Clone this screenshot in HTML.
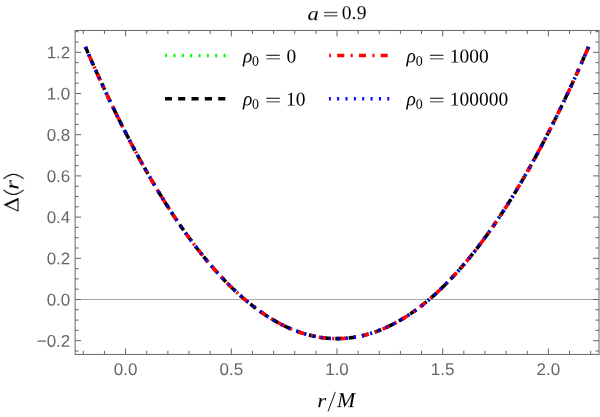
<!DOCTYPE html>
<html lang="en">
<head>
<meta charset="utf-8">
<title>Delta(r) plot, a = 0.9</title>
<style>
html, body { margin: 0; padding: 0; background: #ffffff; }
body { width: 600px; height: 417px; overflow: hidden; font-family: "Liberation Sans", sans-serif; }
svg { display: block; }
</style>
</head>
<body>
<svg width="600" height="417" viewBox="0 0 600 417">
<rect x="0" y="0" width="600" height="417" fill="#ffffff"/>
<g opacity="0.999">
<line x1="75.10" y1="299.50" x2="599.00" y2="299.50" stroke="#a8a8a8" stroke-width="1"/>
<polyline points="85.43,46.92 86.11,48.50 86.80,50.07 87.48,51.64 88.16,53.20 88.84,54.76 89.52,56.32 90.20,57.87 90.88,59.42 91.56,60.96 92.24,62.50 92.92,64.03 93.60,65.56 94.28,67.09 94.96,68.61 95.65,70.13 96.33,71.64 97.01,73.15 97.69,74.65 98.37,76.15 99.05,77.65 99.73,79.14 100.41,80.62 101.09,82.11 101.77,83.59 102.45,85.06 103.13,86.53 103.82,88.00 104.50,89.46 105.18,90.91 105.86,92.37 106.54,93.82 107.22,95.26 107.90,96.70 108.58,98.14 109.26,99.57 109.94,100.99 110.62,102.42 111.30,103.84 111.98,105.25 112.67,106.66 113.35,108.07 114.03,109.47 114.71,110.86 115.39,112.26 116.07,113.65 116.75,115.03 117.43,116.41 118.11,117.79 118.79,119.16 119.47,120.53 120.15,121.89 120.83,123.25 121.52,124.60 122.20,125.95 122.88,127.30 123.56,128.64 124.24,129.98 124.92,131.31 125.60,132.64" fill="none" stroke="#00ff00" stroke-width="3.55" stroke-dasharray="2.00 6.354" stroke-dashoffset="0.20"/>
<polyline points="125.60,132.64 126.76,134.90 127.92,137.14 129.08,139.37 130.24,141.59 131.40,143.79 132.56,145.98 133.72,148.17 134.88,150.33 136.04,152.49 137.20,154.63 138.36,156.76 139.52,158.88 140.68,160.99 141.84,163.08 143.00,165.16 144.17,167.23 145.33,169.29 146.49,171.33 147.65,173.37 148.81,175.38 149.97,177.39 151.13,179.39 152.29,181.37 153.45,183.34 154.61,185.30 155.77,187.24 156.93,189.17 158.09,191.09 159.25,193.00 160.41,194.90 161.57,196.78 162.73,198.65 163.89,200.51 165.05,202.35 166.21,204.19 167.37,206.01 168.53,207.81 169.69,209.61 170.85,211.39 172.01,213.16 173.17,214.92 174.33,216.67 175.49,218.40 176.65,220.12 177.81,221.83 178.97,223.53 180.13,225.21 181.30,226.89 182.46,228.55 183.62,230.19 184.78,231.83 185.94,233.45 187.10,235.06 188.26,236.66 189.42,238.24 190.58,239.81 191.74,241.37 192.90,242.92 194.06,244.46 195.22,245.98 196.38,247.49 197.54,248.99 198.70,250.47 199.86,251.95 201.02,253.41 202.18,254.86 203.34,256.29 204.50,257.72 205.66,259.13 206.82,260.53 207.98,261.91 209.14,263.29 210.30,264.65 211.46,266.00 212.62,267.33 213.78,268.66 214.94,269.97 216.10,271.27 217.26,272.56 218.43,273.83 219.59,275.09 220.75,276.34 221.91,277.58 223.07,278.80 224.23,280.02 225.39,281.22 226.55,282.40 227.71,283.58 228.87,284.74 230.03,285.89 231.19,287.03 232.35,288.16 233.51,289.27 234.67,290.37 235.83,291.46 236.99,292.54 238.15,293.60 239.31,294.65 240.47,295.69 241.63,296.72 242.79,297.73 243.95,298.73 245.11,299.72 246.27,300.70 247.43,301.66 248.59,302.61 249.75,303.55 250.91,304.48 252.07,305.39 253.23,306.30 254.40,307.19 255.56,308.06 256.72,308.93 257.88,309.78 259.04,310.62 260.20,311.45 261.36,312.26 262.52,313.07 263.68,313.86 264.84,314.64 266.00,315.40 267.16,316.16 268.32,316.90 269.48,317.62 270.64,318.34 271.80,319.04 272.96,319.74 274.12,320.41 275.28,321.08 276.44,321.74 277.60,322.38 278.76,323.01 279.92,323.62 281.08,324.23 282.24,324.82 283.40,325.40 284.56,325.97 285.72,326.52 286.88,327.06 288.04,327.59 289.20,328.11 290.36,328.62 291.53,329.11 292.69,329.59 293.85,330.06 295.01,330.51 296.17,330.95 297.33,331.38 298.49,331.80 299.65,332.21 300.81,332.60 301.97,332.98 303.13,333.35 304.29,333.71 305.45,334.05 306.61,334.38 307.77,334.70 308.93,335.01 310.09,335.30 311.25,335.58 312.41,335.85 313.57,336.11 314.73,336.35 315.89,336.59 317.05,336.81 318.21,337.01 319.37,337.21 320.53,337.39 321.69,337.56 322.85,337.72 324.01,337.86 325.17,338.00 326.33,338.12 327.49,338.22 328.66,338.32 329.82,338.40 330.98,338.47 332.14,338.53 333.30,338.58 334.46,338.61 335.62,338.63 336.78,338.64 337.94,338.64 339.10,338.62 340.26,338.59 341.42,338.55 342.58,338.50 343.74,338.43 344.90,338.35 346.06,338.26 347.22,338.16 348.38,338.04 349.54,337.92 350.70,337.77 351.86,337.62 353.02,337.46 354.18,337.28 355.34,337.09 356.50,336.89 357.66,336.67 358.82,336.44 359.98,336.20 361.14,335.95 362.30,335.69 363.46,335.41 364.63,335.12 365.79,334.82 366.95,334.51 368.11,334.18 369.27,333.84 370.43,333.49 371.59,333.13 372.75,332.75 373.91,332.36 375.07,331.96 376.23,331.55 377.39,331.12 378.55,330.68 379.71,330.23 380.87,329.77 382.03,329.29 383.19,328.81 384.35,328.31 385.51,327.79 386.67,327.27 387.83,326.73 388.99,326.18 390.15,325.62 391.31,325.04 392.47,324.46 393.63,323.86 394.79,323.24 395.95,322.62 397.11,321.98 398.27,321.33 399.43,320.67 400.59,320.00 401.76,319.31 402.92,318.61 404.08,317.90 405.24,317.18 406.40,316.44 407.56,315.69 408.72,314.93 409.88,314.16 411.04,313.37 412.20,312.57 413.36,311.76 414.52,310.94 415.68,310.11 416.84,309.26 418.00,308.40 419.16,307.52 420.32,306.64 421.48,305.74 422.64,304.83 423.80,303.91 424.96,302.97 426.12,302.03 427.28,301.07 428.44,300.10 429.60,299.11 430.76,298.12 431.92,297.11 433.08,296.08 434.24,295.05 435.40,294.00 436.56,292.95 437.72,291.87 438.89,290.79 440.05,289.69 441.21,288.59 442.37,287.46 443.53,286.33 444.69,285.19 445.85,284.03 447.01,282.86 448.17,281.67 449.33,280.48 450.49,279.27 451.65,278.05 452.81,276.82 453.97,275.57 455.13,274.32 456.29,273.05 457.45,271.76 458.61,270.47 459.77,269.16 460.93,267.84 462.09,266.51 463.25,265.17 464.41,263.81 465.57,262.44 466.73,261.06 467.89,259.66 469.05,258.26 470.21,256.84 471.37,255.41 472.53,253.96 473.69,252.51 474.86,251.04 476.02,249.56 477.18,248.07 478.34,246.56 479.50,245.04 480.66,243.51 481.82,241.97 482.98,240.41 484.14,238.85 485.30,237.27 486.46,235.67 487.62,234.07 488.78,232.45 489.94,230.82 491.10,229.18 492.26,227.52 493.42,225.86 494.58,224.18 495.74,222.49 496.90,220.78 498.06,219.07 499.22,217.34 500.38,215.59 501.54,213.84 502.70,212.07 503.86,210.30 505.02,208.50 506.18,206.70 507.34,204.88 508.50,203.06 509.66,201.22 510.82,199.36 511.99,197.50 513.15,195.62 514.31,193.73 515.47,191.83 516.63,189.91 517.79,187.98 518.95,186.04 520.11,184.09 521.27,182.13 522.43,180.15 523.59,178.16 524.75,176.16 525.91,174.14 527.07,172.11 528.23,170.08 529.39,168.02 530.55,165.96 531.71,163.88 532.87,161.79 534.03,159.69 535.19,157.58 536.35,155.45 537.51,153.31 538.67,151.16 539.83,149.00 540.99,146.82 542.15,144.63 543.31,142.43 544.47,140.22 545.63,137.99 546.79,135.76 547.95,133.51 549.12,131.24 550.28,128.97 551.44,126.68 552.60,124.38 553.76,122.07 554.92,119.74 556.08,117.41 557.24,115.06 558.40,112.69 559.56,110.32 560.72,107.93 561.88,105.53 563.04,103.12 564.20,100.70 565.36,98.26 566.52,95.81 567.68,93.35 568.84,90.88 570.00,88.39 571.16,85.89 572.32,83.38 573.48,80.86 574.64,78.32 575.80,75.77 576.96,73.21 578.12,70.64 579.28,68.05 580.44,65.46 581.60,62.85 582.76,60.22 583.92,57.59 585.09,54.94 586.25,52.28 587.41,49.61 588.57,46.92" fill="none" stroke="#00ff00" stroke-width="3.55" stroke-dasharray="2.00 6.354" stroke-dashoffset="0.20"/>
<polyline points="85.43,46.92 86.11,48.50 86.80,50.07 87.48,51.64 88.16,53.20 88.84,54.76 89.52,56.32 90.20,57.87 90.88,59.42 91.56,60.96 92.24,62.50 92.92,64.03 93.60,65.56 94.28,67.09 94.96,68.61 95.65,70.13 96.33,71.64 97.01,73.15 97.69,74.65 98.37,76.15 99.05,77.65 99.73,79.14 100.41,80.62 101.09,82.11 101.77,83.59 102.45,85.06 103.13,86.53 103.82,88.00 104.50,89.46 105.18,90.91 105.86,92.37 106.54,93.82 107.22,95.26 107.90,96.70 108.58,98.14 109.26,99.57 109.94,100.99 110.62,102.42 111.30,103.84 111.98,105.25 112.67,106.66 113.35,108.07 114.03,109.47 114.71,110.86 115.39,112.26 116.07,113.65 116.75,115.03 117.43,116.41 118.11,117.79 118.79,119.16 119.47,120.53 120.15,121.89 120.83,123.25 121.52,124.60 122.20,125.95 122.88,127.30 123.56,128.64 124.24,129.98 124.92,131.31 125.60,132.64" fill="none" stroke="#000000" stroke-width="3.55" stroke-dasharray="7.10 6.25" stroke-dashoffset="0.20"/>
<polyline points="125.60,132.64 126.76,134.90 127.92,137.14 129.08,139.37 130.24,141.59 131.40,143.79 132.56,145.98 133.72,148.17 134.88,150.33 136.04,152.49 137.20,154.63 138.36,156.76 139.52,158.88 140.68,160.99 141.84,163.08 143.00,165.16 144.17,167.23 145.33,169.29 146.49,171.33 147.65,173.37 148.81,175.38 149.97,177.39 151.13,179.39 152.29,181.37 153.45,183.34 154.61,185.30 155.77,187.24 156.93,189.17 158.09,191.09 159.25,193.00 160.41,194.90 161.57,196.78 162.73,198.65 163.89,200.51 165.05,202.35 166.21,204.19 167.37,206.01 168.53,207.81 169.69,209.61 170.85,211.39 172.01,213.16 173.17,214.92 174.33,216.67 175.49,218.40 176.65,220.12 177.81,221.83 178.97,223.53 180.13,225.21 181.30,226.89 182.46,228.55 183.62,230.19 184.78,231.83 185.94,233.45 187.10,235.06 188.26,236.66 189.42,238.24 190.58,239.81 191.74,241.37 192.90,242.92 194.06,244.46 195.22,245.98 196.38,247.49 197.54,248.99 198.70,250.47 199.86,251.95 201.02,253.41 202.18,254.86 203.34,256.29 204.50,257.72 205.66,259.13 206.82,260.53 207.98,261.91 209.14,263.29 210.30,264.65 211.46,266.00 212.62,267.33 213.78,268.66 214.94,269.97 216.10,271.27 217.26,272.56 218.43,273.83 219.59,275.09 220.75,276.34 221.91,277.58 223.07,278.80 224.23,280.02 225.39,281.22 226.55,282.40 227.71,283.58 228.87,284.74 230.03,285.89 231.19,287.03 232.35,288.16 233.51,289.27 234.67,290.37 235.83,291.46 236.99,292.54 238.15,293.60 239.31,294.65 240.47,295.69 241.63,296.72 242.79,297.73 243.95,298.73 245.11,299.72 246.27,300.70 247.43,301.66 248.59,302.61 249.75,303.55 250.91,304.48 252.07,305.39 253.23,306.30 254.40,307.19 255.56,308.06 256.72,308.93 257.88,309.78 259.04,310.62 260.20,311.45 261.36,312.26 262.52,313.07 263.68,313.86 264.84,314.64 266.00,315.40 267.16,316.16 268.32,316.90 269.48,317.62 270.64,318.34 271.80,319.04 272.96,319.74 274.12,320.41 275.28,321.08 276.44,321.74 277.60,322.38 278.76,323.01 279.92,323.62 281.08,324.23 282.24,324.82 283.40,325.40 284.56,325.97 285.72,326.52 286.88,327.06 288.04,327.59 289.20,328.11 290.36,328.62 291.53,329.11 292.69,329.59 293.85,330.06 295.01,330.51 296.17,330.95 297.33,331.38 298.49,331.80 299.65,332.21 300.81,332.60 301.97,332.98 303.13,333.35 304.29,333.71 305.45,334.05 306.61,334.38 307.77,334.70 308.93,335.01 310.09,335.30 311.25,335.58 312.41,335.85 313.57,336.11 314.73,336.35 315.89,336.59 317.05,336.81 318.21,337.01 319.37,337.21 320.53,337.39 321.69,337.56 322.85,337.72 324.01,337.86 325.17,338.00 326.33,338.12 327.49,338.22 328.66,338.32 329.82,338.40 330.98,338.47 332.14,338.53 333.30,338.58 334.46,338.61 335.62,338.63 336.78,338.64 337.94,338.64 339.10,338.62 340.26,338.59 341.42,338.55 342.58,338.50 343.74,338.43 344.90,338.35 346.06,338.26 347.22,338.16 348.38,338.04 349.54,337.92 350.70,337.77 351.86,337.62 353.02,337.46 354.18,337.28 355.34,337.09 356.50,336.89 357.66,336.67 358.82,336.44 359.98,336.20 361.14,335.95 362.30,335.69 363.46,335.41 364.63,335.12 365.79,334.82 366.95,334.51 368.11,334.18 369.27,333.84 370.43,333.49 371.59,333.13 372.75,332.75 373.91,332.36 375.07,331.96 376.23,331.55 377.39,331.12 378.55,330.68 379.71,330.23 380.87,329.77 382.03,329.29 383.19,328.81 384.35,328.31 385.51,327.79 386.67,327.27 387.83,326.73 388.99,326.18 390.15,325.62 391.31,325.04 392.47,324.46 393.63,323.86 394.79,323.24 395.95,322.62 397.11,321.98 398.27,321.33 399.43,320.67 400.59,320.00 401.76,319.31 402.92,318.61 404.08,317.90 405.24,317.18 406.40,316.44 407.56,315.69 408.72,314.93 409.88,314.16 411.04,313.37 412.20,312.57 413.36,311.76 414.52,310.94 415.68,310.11 416.84,309.26 418.00,308.40 419.16,307.52 420.32,306.64 421.48,305.74 422.64,304.83 423.80,303.91 424.96,302.97 426.12,302.03 427.28,301.07 428.44,300.10 429.60,299.11 430.76,298.12 431.92,297.11 433.08,296.08 434.24,295.05 435.40,294.00 436.56,292.95 437.72,291.87 438.89,290.79 440.05,289.69 441.21,288.59 442.37,287.46 443.53,286.33 444.69,285.19 445.85,284.03 447.01,282.86 448.17,281.67 449.33,280.48 450.49,279.27 451.65,278.05 452.81,276.82 453.97,275.57 455.13,274.32 456.29,273.05 457.45,271.76 458.61,270.47 459.77,269.16 460.93,267.84 462.09,266.51 463.25,265.17 464.41,263.81 465.57,262.44 466.73,261.06 467.89,259.66 469.05,258.26 470.21,256.84 471.37,255.41 472.53,253.96 473.69,252.51 474.86,251.04 476.02,249.56 477.18,248.07 478.34,246.56 479.50,245.04 480.66,243.51 481.82,241.97 482.98,240.41 484.14,238.85 485.30,237.27 486.46,235.67 487.62,234.07 488.78,232.45 489.94,230.82 491.10,229.18 492.26,227.52 493.42,225.86 494.58,224.18 495.74,222.49 496.90,220.78 498.06,219.07 499.22,217.34 500.38,215.59 501.54,213.84 502.70,212.07 503.86,210.30 505.02,208.50 506.18,206.70 507.34,204.88 508.50,203.06 509.66,201.22 510.82,199.36 511.99,197.50 513.15,195.62 514.31,193.73 515.47,191.83 516.63,189.91 517.79,187.98 518.95,186.04 520.11,184.09 521.27,182.13 522.43,180.15 523.59,178.16 524.75,176.16 525.91,174.14 527.07,172.11 528.23,170.08 529.39,168.02 530.55,165.96 531.71,163.88 532.87,161.79 534.03,159.69 535.19,157.58 536.35,155.45 537.51,153.31 538.67,151.16 539.83,149.00 540.99,146.82 542.15,144.63 543.31,142.43 544.47,140.22 545.63,137.99 546.79,135.76 547.95,133.51 549.12,131.24 550.28,128.97 551.44,126.68 552.60,124.38 553.76,122.07 554.92,119.74 556.08,117.41 557.24,115.06 558.40,112.69 559.56,110.32 560.72,107.93 561.88,105.53 563.04,103.12 564.20,100.70 565.36,98.26 566.52,95.81 567.68,93.35 568.84,90.88 570.00,88.39 571.16,85.89 572.32,83.38 573.48,80.86 574.64,78.32 575.80,75.77 576.96,73.21 578.12,70.64 579.28,68.05 580.44,65.46 581.60,62.85 582.76,60.22 583.92,57.59 585.09,54.94 586.25,52.28 587.41,49.61 588.57,46.92" fill="none" stroke="#000000" stroke-width="3.55" stroke-dasharray="7.10 6.25" stroke-dashoffset="0.20"/>
<polyline points="85.43,46.92 86.11,48.50 86.80,50.07 87.48,51.64 88.16,53.20 88.84,54.76 89.52,56.32 90.20,57.87 90.88,59.42 91.56,60.96 92.24,62.50 92.92,64.03 93.60,65.56 94.28,67.09 94.96,68.61 95.65,70.13 96.33,71.64 97.01,73.15 97.69,74.65 98.37,76.15 99.05,77.65 99.73,79.14 100.41,80.62 101.09,82.11 101.77,83.59 102.45,85.06 103.13,86.53 103.82,88.00 104.50,89.46 105.18,90.91 105.86,92.37 106.54,93.82 107.22,95.26 107.90,96.70 108.58,98.14 109.26,99.57 109.94,100.99 110.62,102.42 111.30,103.84 111.98,105.25 112.67,106.66 113.35,108.07 114.03,109.47 114.71,110.86 115.39,112.26 116.07,113.65 116.75,115.03 117.43,116.41 118.11,117.79 118.79,119.16 119.47,120.53 120.15,121.89 120.83,123.25 121.52,124.60 122.20,125.95 122.88,127.30 123.56,128.64 124.24,129.98 124.92,131.31 125.60,132.64" fill="none" stroke="#ff0000" stroke-width="3.55" stroke-dasharray="2.00 6.215 7.10 6.40" stroke-dashoffset="0.20"/>
<polyline points="125.60,132.64 126.76,134.90 127.92,137.14 129.08,139.37 130.24,141.59 131.40,143.79 132.56,145.98 133.72,148.17 134.88,150.33 136.04,152.49 137.20,154.63 138.36,156.76 139.52,158.88 140.68,160.99 141.84,163.08 143.00,165.16 144.17,167.23 145.33,169.29 146.49,171.33 147.65,173.37 148.81,175.38 149.97,177.39 151.13,179.39 152.29,181.37 153.45,183.34 154.61,185.30 155.77,187.24 156.93,189.17 158.09,191.09 159.25,193.00 160.41,194.90 161.57,196.78 162.73,198.65 163.89,200.51 165.05,202.35 166.21,204.19 167.37,206.01 168.53,207.81 169.69,209.61 170.85,211.39 172.01,213.16 173.17,214.92 174.33,216.67 175.49,218.40 176.65,220.12 177.81,221.83 178.97,223.53 180.13,225.21 181.30,226.89 182.46,228.55 183.62,230.19 184.78,231.83 185.94,233.45 187.10,235.06 188.26,236.66 189.42,238.24 190.58,239.81 191.74,241.37 192.90,242.92 194.06,244.46 195.22,245.98 196.38,247.49 197.54,248.99 198.70,250.47 199.86,251.95 201.02,253.41 202.18,254.86 203.34,256.29 204.50,257.72 205.66,259.13 206.82,260.53 207.98,261.91 209.14,263.29 210.30,264.65 211.46,266.00 212.62,267.33 213.78,268.66 214.94,269.97 216.10,271.27 217.26,272.56 218.43,273.83 219.59,275.09 220.75,276.34 221.91,277.58 223.07,278.80 224.23,280.02 225.39,281.22 226.55,282.40 227.71,283.58 228.87,284.74 230.03,285.89 231.19,287.03 232.35,288.16 233.51,289.27 234.67,290.37 235.83,291.46 236.99,292.54 238.15,293.60 239.31,294.65 240.47,295.69 241.63,296.72 242.79,297.73 243.95,298.73 245.11,299.72 246.27,300.70 247.43,301.66 248.59,302.61 249.75,303.55 250.91,304.48 252.07,305.39 253.23,306.30 254.40,307.19 255.56,308.06 256.72,308.93 257.88,309.78 259.04,310.62 260.20,311.45 261.36,312.26 262.52,313.07 263.68,313.86 264.84,314.64 266.00,315.40 267.16,316.16 268.32,316.90 269.48,317.62 270.64,318.34 271.80,319.04 272.96,319.74 274.12,320.41 275.28,321.08 276.44,321.74 277.60,322.38 278.76,323.01 279.92,323.62 281.08,324.23 282.24,324.82 283.40,325.40 284.56,325.97 285.72,326.52 286.88,327.06 288.04,327.59 289.20,328.11 290.36,328.62 291.53,329.11 292.69,329.59 293.85,330.06 295.01,330.51 296.17,330.95 297.33,331.38 298.49,331.80 299.65,332.21 300.81,332.60 301.97,332.98 303.13,333.35 304.29,333.71 305.45,334.05 306.61,334.38 307.77,334.70 308.93,335.01 310.09,335.30 311.25,335.58 312.41,335.85 313.57,336.11 314.73,336.35 315.89,336.59 317.05,336.81 318.21,337.01 319.37,337.21 320.53,337.39 321.69,337.56 322.85,337.72 324.01,337.86 325.17,338.00 326.33,338.12 327.49,338.22 328.66,338.32 329.82,338.40 330.98,338.47 332.14,338.53 333.30,338.58 334.46,338.61 335.62,338.63 336.78,338.64 337.94,338.64 339.10,338.62 340.26,338.59 341.42,338.55 342.58,338.50 343.74,338.43 344.90,338.35 346.06,338.26 347.22,338.16 348.38,338.04 349.54,337.92 350.70,337.77 351.86,337.62 353.02,337.46 354.18,337.28 355.34,337.09 356.50,336.89 357.66,336.67 358.82,336.44 359.98,336.20 361.14,335.95 362.30,335.69 363.46,335.41 364.63,335.12 365.79,334.82 366.95,334.51 368.11,334.18 369.27,333.84 370.43,333.49 371.59,333.13 372.75,332.75 373.91,332.36 375.07,331.96 376.23,331.55 377.39,331.12 378.55,330.68 379.71,330.23 380.87,329.77 382.03,329.29 383.19,328.81 384.35,328.31 385.51,327.79 386.67,327.27 387.83,326.73 388.99,326.18 390.15,325.62 391.31,325.04 392.47,324.46 393.63,323.86 394.79,323.24 395.95,322.62 397.11,321.98 398.27,321.33 399.43,320.67 400.59,320.00 401.76,319.31 402.92,318.61 404.08,317.90 405.24,317.18 406.40,316.44 407.56,315.69 408.72,314.93 409.88,314.16 411.04,313.37 412.20,312.57 413.36,311.76 414.52,310.94 415.68,310.11 416.84,309.26 418.00,308.40 419.16,307.52 420.32,306.64 421.48,305.74 422.64,304.83 423.80,303.91 424.96,302.97 426.12,302.03 427.28,301.07 428.44,300.10 429.60,299.11 430.76,298.12 431.92,297.11 433.08,296.08 434.24,295.05 435.40,294.00 436.56,292.95 437.72,291.87 438.89,290.79 440.05,289.69 441.21,288.59 442.37,287.46 443.53,286.33 444.69,285.19 445.85,284.03 447.01,282.86 448.17,281.67 449.33,280.48 450.49,279.27 451.65,278.05 452.81,276.82 453.97,275.57 455.13,274.32 456.29,273.05 457.45,271.76 458.61,270.47 459.77,269.16 460.93,267.84 462.09,266.51 463.25,265.17 464.41,263.81 465.57,262.44 466.73,261.06 467.89,259.66 469.05,258.26 470.21,256.84 471.37,255.41 472.53,253.96 473.69,252.51 474.86,251.04 476.02,249.56 477.18,248.07 478.34,246.56 479.50,245.04 480.66,243.51 481.82,241.97 482.98,240.41 484.14,238.85 485.30,237.27 486.46,235.67 487.62,234.07 488.78,232.45 489.94,230.82 491.10,229.18 492.26,227.52 493.42,225.86 494.58,224.18 495.74,222.49 496.90,220.78 498.06,219.07 499.22,217.34 500.38,215.59 501.54,213.84 502.70,212.07 503.86,210.30 505.02,208.50 506.18,206.70 507.34,204.88 508.50,203.06 509.66,201.22 510.82,199.36 511.99,197.50 513.15,195.62 514.31,193.73 515.47,191.83 516.63,189.91 517.79,187.98 518.95,186.04 520.11,184.09 521.27,182.13 522.43,180.15 523.59,178.16 524.75,176.16 525.91,174.14 527.07,172.11 528.23,170.08 529.39,168.02 530.55,165.96 531.71,163.88 532.87,161.79 534.03,159.69 535.19,157.58 536.35,155.45 537.51,153.31 538.67,151.16 539.83,149.00 540.99,146.82 542.15,144.63 543.31,142.43 544.47,140.22 545.63,137.99 546.79,135.76 547.95,133.51 549.12,131.24 550.28,128.97 551.44,126.68 552.60,124.38 553.76,122.07 554.92,119.74 556.08,117.41 557.24,115.06 558.40,112.69 559.56,110.32 560.72,107.93 561.88,105.53 563.04,103.12 564.20,100.70 565.36,98.26 566.52,95.81 567.68,93.35 568.84,90.88 570.00,88.39 571.16,85.89 572.32,83.38 573.48,80.86 574.64,78.32 575.80,75.77 576.96,73.21 578.12,70.64 579.28,68.05 580.44,65.46 581.60,62.85 582.76,60.22 583.92,57.59 585.09,54.94 586.25,52.28 587.41,49.61 588.57,46.92" fill="none" stroke="#ff0000" stroke-width="3.55" stroke-dasharray="2.00 6.215 7.10 6.40" stroke-dashoffset="0.20"/>
<polyline points="85.43,46.92 86.11,48.50 86.80,50.07 87.48,51.64 88.16,53.20 88.84,54.76 89.52,56.32 90.20,57.87 90.88,59.42 91.56,60.96 92.24,62.50 92.92,64.03 93.60,65.56 94.28,67.09 94.96,68.61 95.65,70.13 96.33,71.64 97.01,73.15 97.69,74.65 98.37,76.15 99.05,77.65 99.73,79.14 100.41,80.62 101.09,82.11 101.77,83.59 102.45,85.06 103.13,86.53 103.82,88.00 104.50,89.46 105.18,90.91 105.86,92.37 106.54,93.82 107.22,95.26 107.90,96.70 108.58,98.14 109.26,99.57 109.94,100.99 110.62,102.42 111.30,103.84 111.98,105.25 112.67,106.66 113.35,108.07 114.03,109.47 114.71,110.86 115.39,112.26 116.07,113.65 116.75,115.03 117.43,116.41 118.11,117.79 118.79,119.16 119.47,120.53 120.15,121.89 120.83,123.25 121.52,124.60 122.20,125.95 122.88,127.30 123.56,128.64 124.24,129.98 124.92,131.31 125.60,132.64" fill="none" stroke="#0000ff" stroke-width="3.55" stroke-dasharray="2.00 6.354" stroke-dashoffset="0.20"/>
<polyline points="125.60,132.64 126.76,134.90 127.92,137.14 129.08,139.37 130.24,141.59 131.40,143.79 132.56,145.98 133.72,148.17 134.88,150.33 136.04,152.49 137.20,154.63 138.36,156.76 139.52,158.88 140.68,160.99 141.84,163.08 143.00,165.16 144.17,167.23 145.33,169.29 146.49,171.33 147.65,173.37 148.81,175.38 149.97,177.39 151.13,179.39 152.29,181.37 153.45,183.34 154.61,185.30 155.77,187.24 156.93,189.17 158.09,191.09 159.25,193.00 160.41,194.90 161.57,196.78 162.73,198.65 163.89,200.51 165.05,202.35 166.21,204.19 167.37,206.01 168.53,207.81 169.69,209.61 170.85,211.39 172.01,213.16 173.17,214.92 174.33,216.67 175.49,218.40 176.65,220.12 177.81,221.83 178.97,223.53 180.13,225.21 181.30,226.89 182.46,228.55 183.62,230.19 184.78,231.83 185.94,233.45 187.10,235.06 188.26,236.66 189.42,238.24 190.58,239.81 191.74,241.37 192.90,242.92 194.06,244.46 195.22,245.98 196.38,247.49 197.54,248.99 198.70,250.47 199.86,251.95 201.02,253.41 202.18,254.86 203.34,256.29 204.50,257.72 205.66,259.13 206.82,260.53 207.98,261.91 209.14,263.29 210.30,264.65 211.46,266.00 212.62,267.33 213.78,268.66 214.94,269.97 216.10,271.27 217.26,272.56 218.43,273.83 219.59,275.09 220.75,276.34 221.91,277.58 223.07,278.80 224.23,280.02 225.39,281.22 226.55,282.40 227.71,283.58 228.87,284.74 230.03,285.89 231.19,287.03 232.35,288.16 233.51,289.27 234.67,290.37 235.83,291.46 236.99,292.54 238.15,293.60 239.31,294.65 240.47,295.69 241.63,296.72 242.79,297.73 243.95,298.73 245.11,299.72 246.27,300.70 247.43,301.66 248.59,302.61 249.75,303.55 250.91,304.48 252.07,305.39 253.23,306.30 254.40,307.19 255.56,308.06 256.72,308.93 257.88,309.78 259.04,310.62 260.20,311.45 261.36,312.26 262.52,313.07 263.68,313.86 264.84,314.64 266.00,315.40 267.16,316.16 268.32,316.90 269.48,317.62 270.64,318.34 271.80,319.04 272.96,319.74 274.12,320.41 275.28,321.08 276.44,321.74 277.60,322.38 278.76,323.01 279.92,323.62 281.08,324.23 282.24,324.82 283.40,325.40 284.56,325.97 285.72,326.52 286.88,327.06 288.04,327.59 289.20,328.11 290.36,328.62 291.53,329.11 292.69,329.59 293.85,330.06 295.01,330.51 296.17,330.95 297.33,331.38 298.49,331.80 299.65,332.21 300.81,332.60 301.97,332.98 303.13,333.35 304.29,333.71 305.45,334.05 306.61,334.38 307.77,334.70 308.93,335.01 310.09,335.30 311.25,335.58 312.41,335.85 313.57,336.11 314.73,336.35 315.89,336.59 317.05,336.81 318.21,337.01 319.37,337.21 320.53,337.39 321.69,337.56 322.85,337.72 324.01,337.86 325.17,338.00 326.33,338.12 327.49,338.22 328.66,338.32 329.82,338.40 330.98,338.47 332.14,338.53 333.30,338.58 334.46,338.61 335.62,338.63 336.78,338.64 337.94,338.64 339.10,338.62 340.26,338.59 341.42,338.55 342.58,338.50 343.74,338.43 344.90,338.35 346.06,338.26 347.22,338.16 348.38,338.04 349.54,337.92 350.70,337.77 351.86,337.62 353.02,337.46 354.18,337.28 355.34,337.09 356.50,336.89 357.66,336.67 358.82,336.44 359.98,336.20 361.14,335.95 362.30,335.69 363.46,335.41 364.63,335.12 365.79,334.82 366.95,334.51 368.11,334.18 369.27,333.84 370.43,333.49 371.59,333.13 372.75,332.75 373.91,332.36 375.07,331.96 376.23,331.55 377.39,331.12 378.55,330.68 379.71,330.23 380.87,329.77 382.03,329.29 383.19,328.81 384.35,328.31 385.51,327.79 386.67,327.27 387.83,326.73 388.99,326.18 390.15,325.62 391.31,325.04 392.47,324.46 393.63,323.86 394.79,323.24 395.95,322.62 397.11,321.98 398.27,321.33 399.43,320.67 400.59,320.00 401.76,319.31 402.92,318.61 404.08,317.90 405.24,317.18 406.40,316.44 407.56,315.69 408.72,314.93 409.88,314.16 411.04,313.37 412.20,312.57 413.36,311.76 414.52,310.94 415.68,310.11 416.84,309.26 418.00,308.40 419.16,307.52 420.32,306.64 421.48,305.74 422.64,304.83 423.80,303.91 424.96,302.97 426.12,302.03 427.28,301.07 428.44,300.10 429.60,299.11 430.76,298.12 431.92,297.11 433.08,296.08 434.24,295.05 435.40,294.00 436.56,292.95 437.72,291.87 438.89,290.79 440.05,289.69 441.21,288.59 442.37,287.46 443.53,286.33 444.69,285.19 445.85,284.03 447.01,282.86 448.17,281.67 449.33,280.48 450.49,279.27 451.65,278.05 452.81,276.82 453.97,275.57 455.13,274.32 456.29,273.05 457.45,271.76 458.61,270.47 459.77,269.16 460.93,267.84 462.09,266.51 463.25,265.17 464.41,263.81 465.57,262.44 466.73,261.06 467.89,259.66 469.05,258.26 470.21,256.84 471.37,255.41 472.53,253.96 473.69,252.51 474.86,251.04 476.02,249.56 477.18,248.07 478.34,246.56 479.50,245.04 480.66,243.51 481.82,241.97 482.98,240.41 484.14,238.85 485.30,237.27 486.46,235.67 487.62,234.07 488.78,232.45 489.94,230.82 491.10,229.18 492.26,227.52 493.42,225.86 494.58,224.18 495.74,222.49 496.90,220.78 498.06,219.07 499.22,217.34 500.38,215.59 501.54,213.84 502.70,212.07 503.86,210.30 505.02,208.50 506.18,206.70 507.34,204.88 508.50,203.06 509.66,201.22 510.82,199.36 511.99,197.50 513.15,195.62 514.31,193.73 515.47,191.83 516.63,189.91 517.79,187.98 518.95,186.04 520.11,184.09 521.27,182.13 522.43,180.15 523.59,178.16 524.75,176.16 525.91,174.14 527.07,172.11 528.23,170.08 529.39,168.02 530.55,165.96 531.71,163.88 532.87,161.79 534.03,159.69 535.19,157.58 536.35,155.45 537.51,153.31 538.67,151.16 539.83,149.00 540.99,146.82 542.15,144.63 543.31,142.43 544.47,140.22 545.63,137.99 546.79,135.76 547.95,133.51 549.12,131.24 550.28,128.97 551.44,126.68 552.60,124.38 553.76,122.07 554.92,119.74 556.08,117.41 557.24,115.06 558.40,112.69 559.56,110.32 560.72,107.93 561.88,105.53 563.04,103.12 564.20,100.70 565.36,98.26 566.52,95.81 567.68,93.35 568.84,90.88 570.00,88.39 571.16,85.89 572.32,83.38 573.48,80.86 574.64,78.32 575.80,75.77 576.96,73.21 578.12,70.64 579.28,68.05 580.44,65.46 581.60,62.85 582.76,60.22 583.92,57.59 585.09,54.94 586.25,52.28 587.41,49.61 588.57,46.92" fill="none" stroke="#0000ff" stroke-width="3.55" stroke-dasharray="2.00 6.354" stroke-dashoffset="0.20"/>
<g stroke="#666666" stroke-width="1.00" fill="none">
<rect x="75.10" y="30.45" width="523.90" height="323.95"/>
<line x1="83.32" y1="354.40" x2="83.32" y2="350.80"/>
<line x1="83.32" y1="30.45" x2="83.32" y2="34.05"/>
<line x1="104.46" y1="354.40" x2="104.46" y2="350.80"/>
<line x1="104.46" y1="30.45" x2="104.46" y2="34.05"/>
<line x1="125.60" y1="354.40" x2="125.60" y2="348.40"/>
<line x1="125.60" y1="30.45" x2="125.60" y2="36.45"/>
<line x1="146.74" y1="354.40" x2="146.74" y2="350.80"/>
<line x1="146.74" y1="30.45" x2="146.74" y2="34.05"/>
<line x1="167.88" y1="354.40" x2="167.88" y2="350.80"/>
<line x1="167.88" y1="30.45" x2="167.88" y2="34.05"/>
<line x1="189.02" y1="354.40" x2="189.02" y2="350.80"/>
<line x1="189.02" y1="30.45" x2="189.02" y2="34.05"/>
<line x1="210.16" y1="354.40" x2="210.16" y2="350.80"/>
<line x1="210.16" y1="30.45" x2="210.16" y2="34.05"/>
<line x1="231.30" y1="354.40" x2="231.30" y2="348.40"/>
<line x1="231.30" y1="30.45" x2="231.30" y2="36.45"/>
<line x1="252.44" y1="354.40" x2="252.44" y2="350.80"/>
<line x1="252.44" y1="30.45" x2="252.44" y2="34.05"/>
<line x1="273.58" y1="354.40" x2="273.58" y2="350.80"/>
<line x1="273.58" y1="30.45" x2="273.58" y2="34.05"/>
<line x1="294.72" y1="354.40" x2="294.72" y2="350.80"/>
<line x1="294.72" y1="30.45" x2="294.72" y2="34.05"/>
<line x1="315.86" y1="354.40" x2="315.86" y2="350.80"/>
<line x1="315.86" y1="30.45" x2="315.86" y2="34.05"/>
<line x1="337.00" y1="354.40" x2="337.00" y2="348.40"/>
<line x1="337.00" y1="30.45" x2="337.00" y2="36.45"/>
<line x1="358.14" y1="354.40" x2="358.14" y2="350.80"/>
<line x1="358.14" y1="30.45" x2="358.14" y2="34.05"/>
<line x1="379.28" y1="354.40" x2="379.28" y2="350.80"/>
<line x1="379.28" y1="30.45" x2="379.28" y2="34.05"/>
<line x1="400.42" y1="354.40" x2="400.42" y2="350.80"/>
<line x1="400.42" y1="30.45" x2="400.42" y2="34.05"/>
<line x1="421.56" y1="354.40" x2="421.56" y2="350.80"/>
<line x1="421.56" y1="30.45" x2="421.56" y2="34.05"/>
<line x1="442.70" y1="354.40" x2="442.70" y2="348.40"/>
<line x1="442.70" y1="30.45" x2="442.70" y2="36.45"/>
<line x1="463.84" y1="354.40" x2="463.84" y2="350.80"/>
<line x1="463.84" y1="30.45" x2="463.84" y2="34.05"/>
<line x1="484.98" y1="354.40" x2="484.98" y2="350.80"/>
<line x1="484.98" y1="30.45" x2="484.98" y2="34.05"/>
<line x1="506.12" y1="354.40" x2="506.12" y2="350.80"/>
<line x1="506.12" y1="30.45" x2="506.12" y2="34.05"/>
<line x1="527.26" y1="354.40" x2="527.26" y2="350.80"/>
<line x1="527.26" y1="30.45" x2="527.26" y2="34.05"/>
<line x1="548.40" y1="354.40" x2="548.40" y2="348.40"/>
<line x1="548.40" y1="30.45" x2="548.40" y2="36.45"/>
<line x1="569.54" y1="354.40" x2="569.54" y2="350.80"/>
<line x1="569.54" y1="30.45" x2="569.54" y2="34.05"/>
<line x1="590.68" y1="354.40" x2="590.68" y2="350.80"/>
<line x1="590.68" y1="30.45" x2="590.68" y2="34.05"/>
<line x1="75.10" y1="351.00" x2="78.70" y2="351.00"/>
<line x1="599.00" y1="351.00" x2="595.40" y2="351.00"/>
<line x1="75.10" y1="340.70" x2="81.10" y2="340.70"/>
<line x1="599.00" y1="340.70" x2="593.00" y2="340.70"/>
<line x1="75.10" y1="330.40" x2="78.70" y2="330.40"/>
<line x1="599.00" y1="330.40" x2="595.40" y2="330.40"/>
<line x1="75.10" y1="320.10" x2="78.70" y2="320.10"/>
<line x1="599.00" y1="320.10" x2="595.40" y2="320.10"/>
<line x1="75.10" y1="309.80" x2="78.70" y2="309.80"/>
<line x1="599.00" y1="309.80" x2="595.40" y2="309.80"/>
<line x1="75.10" y1="299.50" x2="81.10" y2="299.50"/>
<line x1="599.00" y1="299.50" x2="593.00" y2="299.50"/>
<line x1="75.10" y1="289.20" x2="78.70" y2="289.20"/>
<line x1="599.00" y1="289.20" x2="595.40" y2="289.20"/>
<line x1="75.10" y1="278.90" x2="78.70" y2="278.90"/>
<line x1="599.00" y1="278.90" x2="595.40" y2="278.90"/>
<line x1="75.10" y1="268.60" x2="78.70" y2="268.60"/>
<line x1="599.00" y1="268.60" x2="595.40" y2="268.60"/>
<line x1="75.10" y1="258.30" x2="81.10" y2="258.30"/>
<line x1="599.00" y1="258.30" x2="593.00" y2="258.30"/>
<line x1="75.10" y1="248.00" x2="78.70" y2="248.00"/>
<line x1="599.00" y1="248.00" x2="595.40" y2="248.00"/>
<line x1="75.10" y1="237.70" x2="78.70" y2="237.70"/>
<line x1="599.00" y1="237.70" x2="595.40" y2="237.70"/>
<line x1="75.10" y1="227.40" x2="78.70" y2="227.40"/>
<line x1="599.00" y1="227.40" x2="595.40" y2="227.40"/>
<line x1="75.10" y1="217.10" x2="81.10" y2="217.10"/>
<line x1="599.00" y1="217.10" x2="593.00" y2="217.10"/>
<line x1="75.10" y1="206.80" x2="78.70" y2="206.80"/>
<line x1="599.00" y1="206.80" x2="595.40" y2="206.80"/>
<line x1="75.10" y1="196.50" x2="78.70" y2="196.50"/>
<line x1="599.00" y1="196.50" x2="595.40" y2="196.50"/>
<line x1="75.10" y1="186.20" x2="78.70" y2="186.20"/>
<line x1="599.00" y1="186.20" x2="595.40" y2="186.20"/>
<line x1="75.10" y1="175.90" x2="81.10" y2="175.90"/>
<line x1="599.00" y1="175.90" x2="593.00" y2="175.90"/>
<line x1="75.10" y1="165.60" x2="78.70" y2="165.60"/>
<line x1="599.00" y1="165.60" x2="595.40" y2="165.60"/>
<line x1="75.10" y1="155.30" x2="78.70" y2="155.30"/>
<line x1="599.00" y1="155.30" x2="595.40" y2="155.30"/>
<line x1="75.10" y1="145.00" x2="78.70" y2="145.00"/>
<line x1="599.00" y1="145.00" x2="595.40" y2="145.00"/>
<line x1="75.10" y1="134.70" x2="81.10" y2="134.70"/>
<line x1="599.00" y1="134.70" x2="593.00" y2="134.70"/>
<line x1="75.10" y1="124.40" x2="78.70" y2="124.40"/>
<line x1="599.00" y1="124.40" x2="595.40" y2="124.40"/>
<line x1="75.10" y1="114.10" x2="78.70" y2="114.10"/>
<line x1="599.00" y1="114.10" x2="595.40" y2="114.10"/>
<line x1="75.10" y1="103.80" x2="78.70" y2="103.80"/>
<line x1="599.00" y1="103.80" x2="595.40" y2="103.80"/>
<line x1="75.10" y1="93.50" x2="81.10" y2="93.50"/>
<line x1="599.00" y1="93.50" x2="593.00" y2="93.50"/>
<line x1="75.10" y1="83.20" x2="78.70" y2="83.20"/>
<line x1="599.00" y1="83.20" x2="595.40" y2="83.20"/>
<line x1="75.10" y1="72.90" x2="78.70" y2="72.90"/>
<line x1="599.00" y1="72.90" x2="595.40" y2="72.90"/>
<line x1="75.10" y1="62.60" x2="78.70" y2="62.60"/>
<line x1="599.00" y1="62.60" x2="595.40" y2="62.60"/>
<line x1="75.10" y1="52.30" x2="81.10" y2="52.30"/>
<line x1="599.00" y1="52.30" x2="593.00" y2="52.30"/>
<line x1="75.10" y1="42.00" x2="78.70" y2="42.00"/>
<line x1="599.00" y1="42.00" x2="595.40" y2="42.00"/>
<line x1="75.10" y1="31.70" x2="78.70" y2="31.70"/>
<line x1="599.00" y1="31.70" x2="595.40" y2="31.70"/>
</g>
<line x1="165.30" y1="55.50" x2="226.50" y2="55.50" stroke="#00ff00" stroke-width="3.55" stroke-dasharray="2.00 6.354" stroke-dashoffset="0.20"/>
<line x1="165.00" y1="98.70" x2="225.80" y2="98.70" stroke="#000000" stroke-width="3.55" stroke-dasharray="7.10 6.25" stroke-dashoffset="0.20"/>
<line x1="329.20" y1="55.50" x2="388.00" y2="55.50" stroke="#ff0000" stroke-width="3.55" stroke-dasharray="2.00 6.215 7.10 6.40" stroke-dashoffset="0.20"/>
<line x1="329.00" y1="98.70" x2="390.00" y2="98.70" stroke="#0000ff" stroke-width="3.55" stroke-dasharray="2.00 6.354" stroke-dashoffset="0.20"/>
<g transform="matrix(1 0.0005 0 1 0 0)">
<g font-family="'Liberation Sans', sans-serif" font-size="17.00" fill="#666666">
<text x="125.60" y="375.04" text-anchor="middle">0.0</text>
<text x="231.30" y="374.98" text-anchor="middle">0.5</text>
<text x="337.00" y="374.93" text-anchor="middle">1.0</text>
<text x="442.70" y="374.88" text-anchor="middle">1.5</text>
<text x="548.40" y="374.83" text-anchor="middle">2.0</text>
<text x="70.30" y="346.66" text-anchor="end">−0.2</text>
<text x="70.30" y="305.46" text-anchor="end">0.0</text>
<text x="70.30" y="264.26" text-anchor="end">0.2</text>
<text x="70.30" y="223.06" text-anchor="end">0.4</text>
<text x="70.30" y="181.86" text-anchor="end">0.6</text>
<text x="70.30" y="140.66" text-anchor="end">0.8</text>
<text x="70.30" y="99.46" text-anchor="end">1.0</text>
<text x="70.30" y="58.26" text-anchor="end">1.2</text>
</g>
<g font-family="'Liberation Serif', serif" font-size="19.50" fill="#000000">
<text x="243.00" y="62.18" font-style="italic">ρ</text>
<text x="252.10" y="65.37" font-size="14.0">0</text>
<rect x="266.35" y="54.72" width="13.50" height="0.9"/>
<rect x="266.35" y="58.27" width="13.50" height="0.9"/>
<text x="286.40" y="62.46">0</text>
<text x="243.00" y="105.18" font-style="italic">ρ</text>
<text x="252.10" y="108.37" font-size="14.0">0</text>
<rect x="266.35" y="97.72" width="13.50" height="0.9"/>
<rect x="266.35" y="101.27" width="13.50" height="0.9"/>
<text x="286.10" y="105.46">10</text>
<text x="406.60" y="62.10" font-style="italic">ρ</text>
<text x="415.70" y="65.29" font-size="14.0">0</text>
<rect x="429.95" y="54.64" width="13.50" height="0.9"/>
<rect x="429.95" y="58.19" width="13.50" height="0.9"/>
<text x="449.70" y="62.38">1000</text>
<text x="406.60" y="105.10" font-style="italic">ρ</text>
<text x="415.70" y="108.29" font-size="14.0">0</text>
<rect x="429.95" y="97.64" width="13.50" height="0.9"/>
<rect x="429.95" y="101.19" width="13.50" height="0.9"/>
<text x="449.70" y="105.38">100000</text>
<text transform="translate(307.50 19.55) scale(1.200 1)" font-size="18.80" font-style="italic">a</text>
<rect x="324.00" y="11.84" width="13.50" height="0.9"/>
<rect x="324.00" y="15.34" width="13.50" height="0.9"/>
<text x="341.80" y="19.33">0</text>
<text x="351.60" y="19.32">.</text>
<text x="356.80" y="19.32">9</text>
<text transform="translate(317.30 406.64) scale(1.250 1)" font-size="18.50" font-style="italic">r</text>
<line x1="328.0" y1="411.34" x2="335.3" y2="391.83" stroke="#000" stroke-width="0.95"/>
<text transform="translate(336.90 406.53) scale(1.070 1)" font-size="20.50" font-style="italic">M</text>
<g transform="translate(18.5,212) rotate(-90)">
<path fill-rule="evenodd" d="M0.3,0 L14.3,0 L7.6,-14.4 L7.0,-14.4 Z M1.77,-1.0 L11.63,-1.0 L6.7,-11.6 Z"/>
<path d="M21.90,-14.60 Q13.10,-4.90 21.90,4.80" fill="none" stroke="#000" stroke-width="1.0" stroke-linecap="round"/>
<path d="M21.90,-11.60 Q13.10,-4.90 21.90,1.80 Q14.00,-4.90 21.90,-11.60 Z"/>
<text transform="translate(22.2 0) scale(1.36 1)" font-style="italic" font-size="18.5">r</text>
<path d="M33.40,-14.60 Q42.00,-4.90 33.40,4.80" fill="none" stroke="#000" stroke-width="1.0" stroke-linecap="round"/>
<path d="M33.40,-11.60 Q42.00,-4.90 33.40,1.80 Q41.10,-4.90 33.40,-11.60 Z"/>
</g>
</g>
</g>
</g>
</svg>
</body>
</html>
